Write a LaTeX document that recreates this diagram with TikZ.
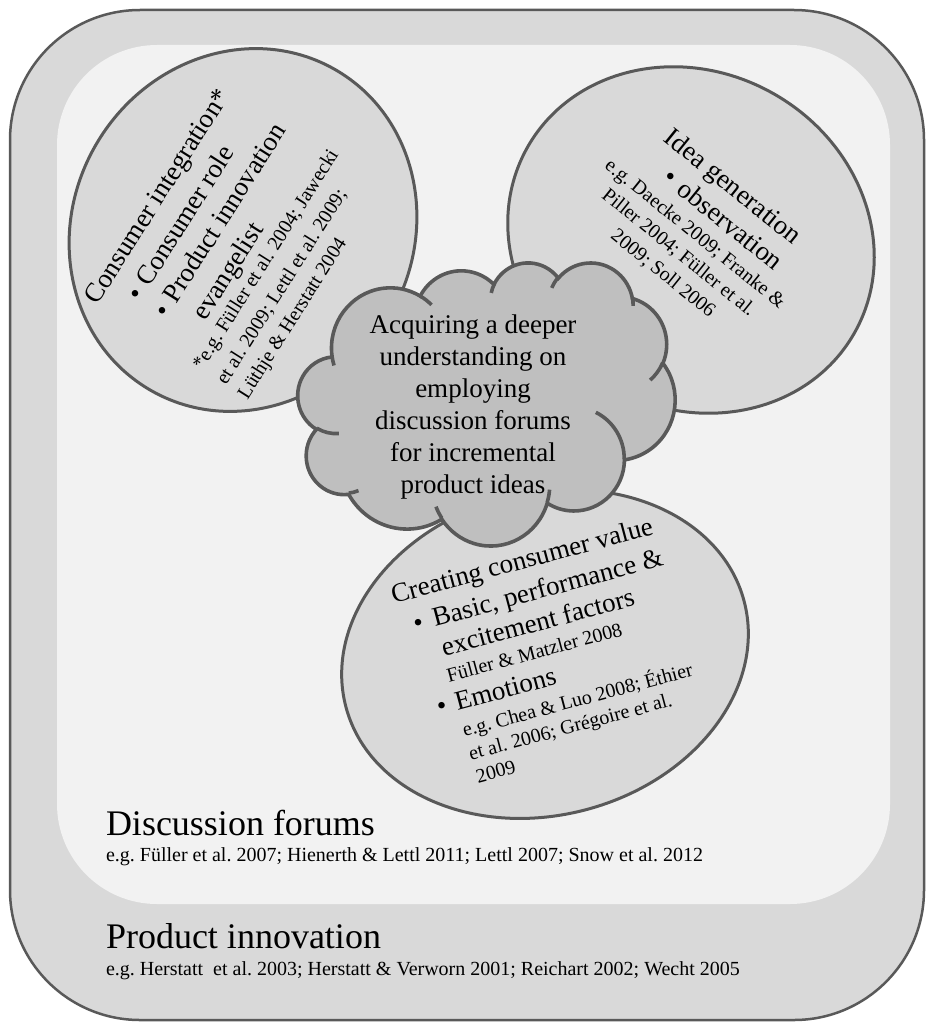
\documentclass[tikz,border=0pt]{standalone}
\usepackage{fontspec}
\setmainfont{Liberation Serif}
\frenchspacing
\definecolor{outerfill}{RGB}{217,217,217}
\definecolor{innerfill}{RGB}{242,242,242}
\definecolor{ellfill}{RGB}{217,217,217}
\definecolor{cloudfill}{RGB}{191,191,191}
\definecolor{linec}{RGB}{89,89,89}
\newcommand{\fbig}{\fontsize{27}{32}\selectfont}
\newcommand{\fsmall}{\fontsize{20}{24}\selectfont}
\newcommand{\fhuge}{\fontsize{36}{43}\selectfont}
\newcommand{\ooarc}[4]{arc[start angle={-atan2(sin(#3)*#1,cos(#3)*#2)}, delta angle={-mod(atan2(sin(#3+#4)*#1,cos(#3+#4)*#2)-atan2(sin(#3)*#1,cos(#3)*#2)+720,360)}, x radius=#1pt, y radius=#2pt]}
\tikzset{
  shapeline/.style={draw=linec, line width=3pt},
  ellshape/.style={shapeline, fill=ellfill},
  cloudline/.style={draw=linec, line width=3.6pt},
  txt/.style={anchor=base west, inner sep=0pt, outer sep=0pt, text=black},
  ctxt/.style={anchor=base, inner sep=0pt, outer sep=0pt, text=black},
}
\begin{document}
\begin{tikzpicture}[x=1pt, y=-1pt]
\useasboundingbox (0,0) rectangle (927,1022);
% outer and inner panels
\draw[draw=linec, line width=2.5pt, fill=outerfill, rounded corners=130pt] (10,10) rectangle (924,1020);
\fill[innerfill, rounded corners=100pt] (57,45) rectangle (890,904);
% ellipses
\draw[ellshape, rotate around={60:(243,230)}] (243,230) ellipse [x radius=185pt, y radius=170pt];
\draw[ellshape, rotate around={-30:(691,240)}] (691,240) ellipse [x radius=188pt, y radius=168pt];
\draw[ellshape, rotate around={15:(545,654)}] (545,654) ellipse [x radius=206pt, y radius=161pt];
% cloud
\begin{scope}[shift={(298,262)}, xscale=0.8727, yscale=0.6551]
\draw[cloudline, fill=cloudfill] (39.00,143.70)
  \ooarc{67.53}{91.90}{-190.4875}{123.7805}
  \ooarc{53.33}{72.67}{-144.1024}{89.9452}
  \ooarc{43.65}{59.45}{-145.8079}{99.7230}
  \ooarc{48.57}{65.95}{-130.9861}{117.2417}
  \ooarc{53.33}{72.73}{-78.7089}{109.0269}
  \ooarc{67.75}{92.20}{-46.2673}{130.2690}
  \ooarc{57.85}{78.67}{0.6250}{114.0333}
  \ooarc{67.52}{92.15}{22.4516}{115.1726}
  \ooarc{77.20}{105.43}{66.2426}{75.7110}
  \ooarc{43.60}{59.18}{-274.9421}{146.7356}
  \ooarc{43.45}{59.45}{-246.8285}{152.5189} -- cycle;
\draw[cloudline] (46.93,261.77) \ooarc{43.45}{59.45}{86.7420}{26.4295};
\draw[cloudline] (69.28,348.99) \ooarc{43.60}{59.18}{73.6105}{11.4475};
\draw[cloudline] (164.78,390.90) \ooarc{67.52}{92.15}{137.6242}{14.0811};
\draw[cloudline] (288.27,347.51) \ooarc{67.52}{92.15}{6.4533}{15.9984};
\draw[cloudline] (341.29,229.54) \ooarc{57.85}{78.67}{-70.2924}{70.9174};
\draw[cloudline] (417.98,153.54) \ooarc{53.33}{72.73}{30.3180}{27.7515};
\draw[cloudline] (383.24,54.26) \ooarc{48.57}{65.95}{-13.7443}{14.8589};
\draw[cloudline] (290.78,39.52) \ooarc{48.57}{65.95}{-149.1815}{18.1954};
\draw[cloudline] (221.41,47.20) \ooarc{43.65}{59.45}{-163.4943}{17.6864};
\draw[cloudline] (140.00,51.92) \ooarc{67.53}{91.90}{-66.7070}{12.3194};
\draw[cloudline] (41.27,157.89) \ooarc{67.53}{91.90}{157.6544}{11.8582};
\end{scope}
\node[align=center, inner sep=0pt, font=\fbig] (core) at (473,407)
  {Acquiring a deeper\\understanding on\\employing\\discussion forums\\for incremental\\product ideas};
% left ellipse text
\begin{scope}[shift={(92,302)}, rotate=57.7, nodes={rotate=57.7}]
\node[txt, font=\fbig] (l1) at (0,7) {Consumer integration*};
\node[txt, font=\fbig] (l2b) at (25,41) {\textbullet};
\node[txt, font=\fbig] (l2) at (43,41) {Consumer role};
\node[txt, font=\fbig] (l3b) at (25,73) {\textbullet};
\node[txt, font=\fbig] (l3) at (43,73) {Product innovation};
\node[txt, font=\fbig] (l4) at (44,107) {evangelist};
\node[txt, font=\fsmall] (l5) at (1,130) {*e.g. Füller et al. 2004; Jawecki};
\node[txt, font=\fsmall] (l6) at (1,158) {et al. 2009; Lettl et al. 2009;};
\node[txt, font=\fsmall] (l7) at (0,184) {Lüthje \& Herstatt 2004};
\end{scope}
% right ellipse text
\begin{scope}[shift={(667,135)}, rotate=-38.9, nodes={rotate=-38.9}]
\node[txt, font=\fbig] (r1) at (0,7) {Idea generation};
\node[txt, font=\fbig] (r2b) at (24,39) {\textbullet};
\node[txt, font=\fbig] (r2) at (43,39) {observation};
\node[ctxt, font=\fsmall] (r3) at (84,65) {e.g. Daecke 2009; Franke \&};
\node[ctxt, font=\fsmall] (r4) at (83,90) {Piller 2004; Füller et al.};
\node[ctxt, font=\fsmall] (r5) at (84,116) {2009; Soll 2006};
\end{scope}
% bottom ellipse text
\begin{scope}[shift={(392,597)}, rotate=15, nodes={rotate=15}]
\node[txt, font=\fbig] (b1) at (0,7) {Creating consumer value};
\node[txt, font=\fbig] (b2b) at (14,40) {\textbullet};
\node[txt, font=\fbig] (b2) at (34,40) {Basic, performance \&};
\node[txt, font=\fbig] (b3) at (35,71) {excitement factors};
\node[txt, font=\fsmall] (b4) at (33,97) {Füller \& Matzler 2008};
\node[txt, font=\fbig] (b5b) at (15,127) {\textbullet};
\node[txt, font=\fbig] (b5) at (34,127) {Emotions};
\node[txt, font=\fsmall] (b6) at (34,154) {e.g. Chea \& Luo 2008; Éthier};
\node[txt, font=\fsmall] (b7) at (34,178) {et al. 2006; Grégoire et al.};
\node[txt, font=\fsmall] (b8) at (35,202) {2009};
\end{scope}
% panel labels
\node[txt, font=\fhuge] (df) at (106,835) {Discussion forums};
\node[txt, font=\fsmall] (dfc) at (106,861) {e.g. Füller et al. 2007; Hienerth \& Lettl 2011; Lettl 2007; Snow et al. 2012};
\node[txt, font=\fhuge] (pi) at (106,948) {Product innovation};
\node[txt, font=\fsmall] (pic) at (106,975) {e.g. Herstatt\ \ et al. 2003; Herstatt \& Verworn 2001; Reichart 2002; Wecht 2005};
\end{tikzpicture}
\end{document}
